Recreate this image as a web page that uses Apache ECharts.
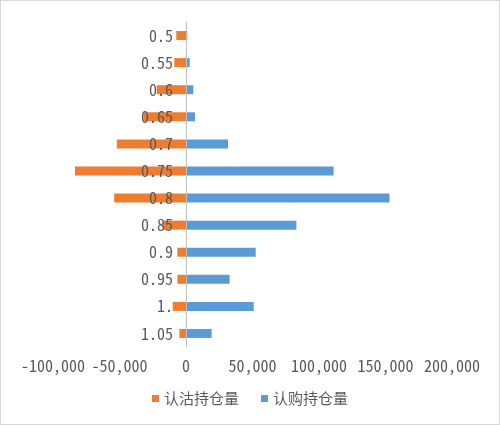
<!DOCTYPE html>
<html>
<head>
<meta charset="utf-8">
<script src="https://cdn.jsdelivr.net/npm/echarts@6/dist/echarts.min.js"></script>
<style>
html,body{margin:0;padding:0;background:#fff;}
#c{width:498px;height:423px;border:1px solid #d9d9d9;}
</style>
</head>
<body>
<div id="c"></div>
<script>
const categories = ["0.5","0.55","0.6","0.65","0.7","0.75","0.8","0.85","0.9","0.95","1.","1.05"];
const putOI = [-7300,-8800,-22000,-32000,-52000,-83500,-54000,-17300,-6500,-6500,-10000,-5000];
const callOI = [1000,2800,5500,6800,31600,111000,153000,83000,52400,32800,50900,19300];
const xTicks = {min:-100000, max:200000, interval:50000};

const labelFont = '"Noto Sans Mono CJK SC", "DejaVu Sans Mono", monospace';
const gridLeft = 52;
const chart = echarts.init(document.getElementById('c'));
chart.setOption({
  animation:false,
  grid:{left:gridLeft,right:47,top:21,bottom:77,containLabel:false},
  legend:{
    bottom:13, left:'center', icon:'rect', itemWidth:7, itemHeight:7, itemGap:22,
    textStyle:{color:'#595959', fontSize:15, fontFamily:'Noto Sans CJK SC'},
    data:['认沽持仓量','认购持仓量']
  },
  xAxis:{
    type:'value', min:xTicks.min, max:xTicks.max, interval:xTicks.interval,
    axisLine:{show:false}, axisTick:{show:false}, splitLine:{show:false},
    axisLabel:{color:'#595959', fontSize:16, fontFamily:labelFont, margin:11,
      formatter:v=>v.toLocaleString('en-US')}
  },
  yAxis:{
    type:'category', data:categories, inverse:true, z:5,
    axisLine:{show:true, onZero:false, lineStyle:{color:'#bfbfbf'}},
    axisTick:{show:false},
    axisLabel:{color:'#595959', fontSize:16, fontFamily:labelFont, margin:13}
  },
  series:[
    {name:'认沽持仓量', type:'bar', data:putOI, barWidth:9, barGap:'-100%', itemStyle:{color:'#ED7D31'}},
    {name:'认购持仓量', type:'bar', data:callOI, barWidth:9, barGap:'-100%', itemStyle:{color:'#5B9BD5'}}
  ]
});
const zeroX = chart.convertToPixel({xAxisIndex:0}, 0);
chart.setOption({yAxis:{offset: -(zeroX - gridLeft)}});
</script>
</body>
</html>
